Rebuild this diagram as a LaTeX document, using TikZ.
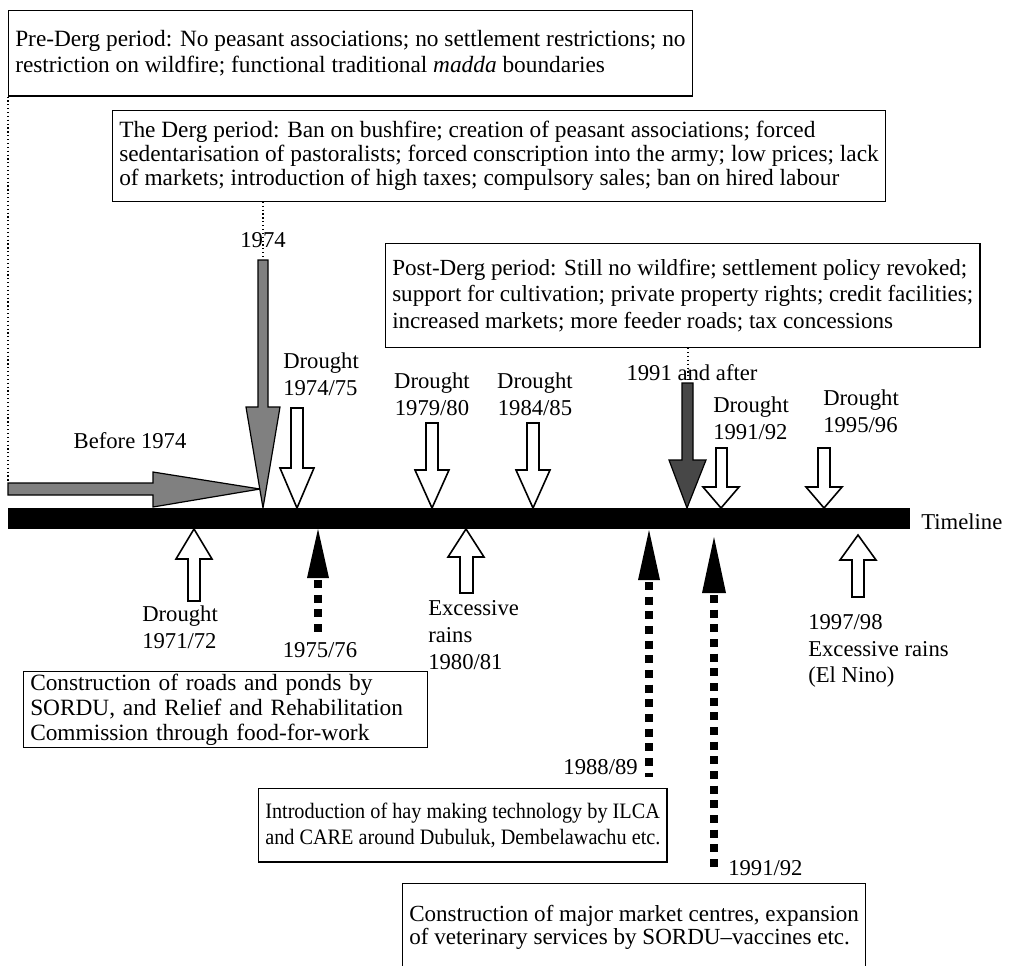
\documentclass[tikz,border=0pt]{standalone}
\usepackage{fontspec}
\setmainfont{Liberation Serif}
\newfontfamily\hayfont[FakeStretch=0.92]{Liberation Serif}

\begin{document}
\begin{tikzpicture}[x=0.75pt,y=0.75pt,yscale=-1,xscale=1,
  box/.style={draw,line width=0.9pt,anchor=north west,align=left,inner xsep=5pt,inner ysep=2pt},
  lbl/.style={inner sep=0pt,font=\fontsize{17}{20}\selectfont},
  hollow/.style={draw,line width=1.2pt,fill=white},
  shaded/.style={draw,line width=0.9pt,fill=black!50},
  squares/.style={line width=6pt,dash pattern=on 6pt off 5pt},
  thindot/.style={dotted,line width=0.9pt}]
\useasboundingbox (0,0) rectangle (1012,965);

% Text Node
\node[box,minimum height=64pt,font=\fontsize{17.5}{19}\selectfont] (pre) at (8,10) {Pre-Derg period: No peasant associations; no settlement restrictions; no\\restriction on wildfire; functional traditional \textit{madda} boundaries};
% Text Node
\node[box,minimum height=68pt,font=\fontsize{17.5}{18}\selectfont] (derg) at (112,110) {The Derg period: Ban on bushfire; creation of peasant associations; forced\\sedentarisation of pastoralists; forced conscription into the army; low prices; lack\\of markets; introduction of high taxes; compulsory sales; ban on hired labour};
% Text Node
\node[box,minimum height=78pt,font=\fontsize{17.3}{20}\selectfont] (post) at (385,243) {Post-Derg period: Still no wildfire; settlement policy revoked;\\support for cultivation; private property rights; credit facilities;\\increased markets; more feeder roads; tax concessions};
% Text Node
\node[box,text width=293pt,minimum height=57pt,font=\fontsize{17.5}{18.5}\selectfont] (roads) at (23,671) {Construction of roads and ponds by\\SORDU, and Relief and Rehabilitation\\Commission through food-for-work};
% Text Node
\node[box,minimum height=55pt,font=\hayfont\fontsize{16.5}{19}\selectfont] (hay) at (258,788) {Introduction of hay making technology by ILCA\\and CARE around Dubuluk, Dembelawachu etc.};
% Text Node
\node[box,minimum height=66pt,font=\fontsize{17.3}{17.5}\selectfont] (market) at (402,883) {Construction of major market centres, expansion\\of veterinary services by SORDU--vaccines etc.};

%Shape: Timeline bar
\fill (8,508) rectangle (910,529);
\node[lbl,anchor=west] (timeline) at (921,522) {Timeline};

%Shape: Right Arrow (before 1974)
\draw[shaded] (8,483) -- (153,483) -- (153,472) -- (260,489) -- (153,507) -- (153,495) -- (8,495) -- cycle;
\node[lbl] (before) at (130,441) {Before 1974};
\coordinate (b1974) at (8,483);
\draw[thindot] (pre.south west) -- (b1974);

%Shape: Down Arrow (1974)
\coordinate (t1974) at (263,260);
\draw[thindot] (derg.south -| t1974) -- (t1974);
\draw[shaded] (258,260) -- (268,260) -- (268,407) -- (280,407) -- (263,508) -- (246,407) -- (258,407) -- cycle;
\node[lbl] (y1974) at (263,240) {1974};

%Shape: Down Arrow (1991 and after)
\coordinate (t1991) at (688,383);
\draw[thindot] (post.south -| t1991) -- (t1991);
\draw[shaded,fill=black!72] (682,383) -- (693,383) -- (693,460) -- (706,460) -- (687,508) -- (669,460) -- (682,460) -- cycle;
\node[lbl] (after) at (692,373) {1991 and after};

%Shape: Down Arrows (droughts)
\draw[hollow] (291,408) -- (303,408) -- (303,468) -- (314,468) -- (297,508) -- (280,468) -- (291,468) -- cycle;
\draw[hollow] (426,423) -- (438,423) -- (438,470) -- (449,470) -- (432,508) -- (415,470) -- (426,470) -- cycle;
\draw[hollow] (527,423) -- (539,423) -- (539,470) -- (550,470) -- (533,508) -- (516,470) -- (527,470) -- cycle;
\draw[hollow] (716,448) -- (727,448) -- (727,487) -- (739,487) -- (721,508) -- (703,487) -- (716,487) -- cycle;
\draw[hollow] (818,448) -- (830,448) -- (830,487) -- (842,487) -- (824,508) -- (806,487) -- (818,487) -- cycle;

% Text Node
\node[lbl,anchor=west,align=left] (d7475) at (283,374) {Drought\\1974/75};
% Text Node
\node[lbl,align=center] (d7980) at (432,394) {Drought\\1979/80};
% Text Node
\node[lbl,align=center] (d8485) at (535,394) {Drought\\1984/85};
% Text Node
\node[lbl,anchor=west,align=left] (d9192) at (713,418) {Drought\\1991/92};
% Text Node
\node[lbl,anchor=west,align=left] (d9596) at (823,411) {Drought\\1995/96};

%Shape: Up Arrows (droughts and rains)
\draw[hollow] (188,601) -- (200,601) -- (200,559) -- (212,559) -- (194,529) -- (176,559) -- (188,559) -- cycle;
\draw[hollow] (460,593) -- (473,593) -- (473,557) -- (484,557) -- (466,529) -- (448,557) -- (460,557) -- cycle;
\draw[hollow] (852,597) -- (864,597) -- (864,560) -- (876,560) -- (858,535) -- (840,560) -- (852,560) -- cycle;

% Text Node
\node[lbl,anchor=west,align=left] (d7172) at (142,627) {Drought\\1971/72};
% Text Node
\node[lbl,anchor=west,align=left] (r8081) at (428,635) {Excessive\\rains\\1980/81};
% Text Node
\node[lbl,anchor=west,align=left] (r9798) at (808,651) {1997/98\\Excessive rains\\(El Nino)};

%Shape: Up Arrows (interventions)
\fill (318,529) -- (329,578) -- (307,578) -- cycle;
\draw[squares] (318,580) -- (318,632);
\fill (649,530) -- (660,580) -- (638,580) -- cycle;
\draw[squares] (649,582) -- (649,777);
\fill (714,537) -- (726,593) -- (702,593) -- cycle;
\draw[squares] (714,595) -- (714,872);

% Text Node
\node[lbl] (y7576) at (320,650) {1975/76};
% Text Node
\node[lbl,anchor=east] (y8889) at (638,767) {1988/89};
% Text Node
\node[lbl,anchor=west] (y9192) at (728,868) {1991/92};

\end{tikzpicture}
\end{document}
